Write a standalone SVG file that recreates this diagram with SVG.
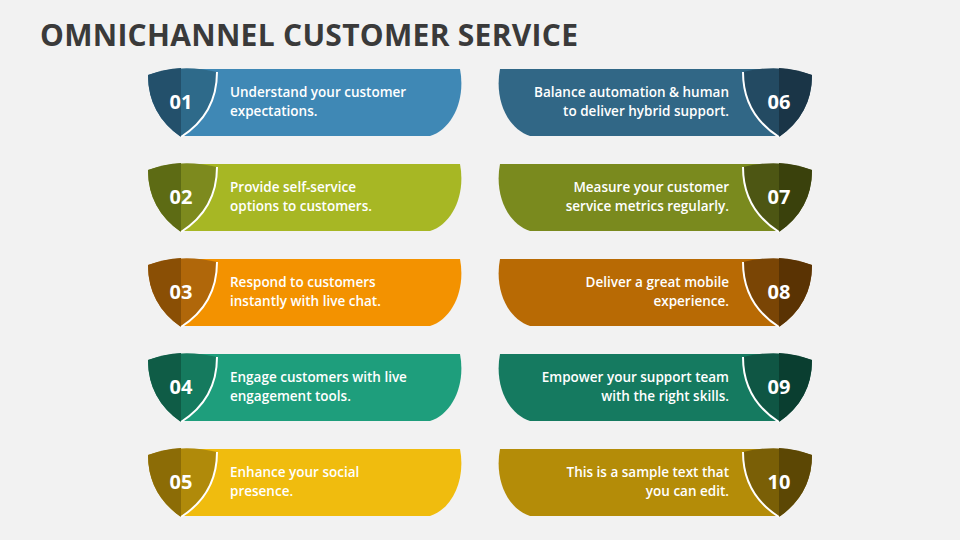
<svg xmlns="http://www.w3.org/2000/svg" width="960" height="540" viewBox="0 0 960 540">
<style>
.t{font-family:"Open Sans","Liberation Sans",sans-serif;font-weight:600;font-size:13.5px;fill:#fff}
.n{font-family:"Open Sans","Liberation Sans",sans-serif;font-weight:700;font-size:20px;fill:#fff;text-anchor:middle}
.e{text-anchor:end}
.w{fill:none;stroke:#fff;stroke-width:2}
</style>
<defs>
<path id="ban" d="M195 0 L460 0 C466 31 452 60 430 67 L183 67 Z"/>
<path id="sh" d="M148 6 Q181 -6 217 3 Q217 45 181 68 Q148 45 148 6 Z"/>
<path id="shd" d="M148 6 Q164 0 181 -1 L181 68 Q148 45 148 6 Z"/>
<path id="shw" d="M217 3 Q217 45 181 68"/>
</defs>
<rect width="960" height="540" fill="#f2f2f2"/>
<text x="40" y="46" font-family="Open Sans, Liberation Sans, sans-serif" font-weight="700" font-size="30" fill="#3a3a3a" textLength="538">OMNICHANNEL CUSTOMER SERVICE</text>

<g id="n01" transform="translate(0,69)"><use href="#ban" fill="#3F88B5"/><use href="#sh" fill="#2e6a8a"/><use href="#shd" fill="#23506b"/><use href="#shw" class="w"/><text class="n" x="181" y="40">01</text><text class="t" x="230" y="28">Understand your customer</text><text class="t" x="230" y="47">expectations.</text></g>
<g id="n02" transform="translate(0,164)"><use href="#ban" fill="#A7B724"/><use href="#sh" fill="#7d8a1e"/><use href="#shd" fill="#5d6b14"/><use href="#shw" class="w"/><text class="n" x="181" y="40">02</text><text class="t" x="230" y="28">Provide self-service</text><text class="t" x="230" y="47">options to customers.</text></g>
<g id="n03" transform="translate(0,259)"><use href="#ban" fill="#F39200"/><use href="#sh" fill="#b0670a"/><use href="#shd" fill="#8a4f05"/><use href="#shw" class="w"/><text class="n" x="181" y="40">03</text><text class="t" x="230" y="28">Respond to customers</text><text class="t" x="230" y="47">instantly with live chat.</text></g>
<g id="n04" transform="translate(0,354)"><use href="#ban" fill="#1E9E7C"/><use href="#sh" fill="#157a5e"/><use href="#shd" fill="#0f5c46"/><use href="#shw" class="w"/><text class="n" x="181" y="40">04</text><text class="t" x="230" y="28">Engage customers with live</text><text class="t" x="230" y="47">engagement tools.</text></g>
<g id="n05" transform="translate(0,449)"><use href="#ban" fill="#F0BC0E"/><use href="#sh" fill="#b08a0a"/><use href="#shd" fill="#8c6c06"/><use href="#shw" class="w"/><text class="n" x="181" y="40">05</text><text class="t" x="230" y="28">Enhance your social</text><text class="t" x="230" y="47">presence.</text></g>

<g id="n06" transform="translate(0,69)"><g transform="translate(960,0) scale(-1,1)"><use href="#ban" fill="#316786"/><use href="#sh" fill="#234a62"/><use href="#shd" fill="#1a3547"/><use href="#shw" class="w"/></g><text class="n" x="779" y="40">06</text><text class="t e" x="729" y="28">Balance automation &amp; human</text><text class="t e" x="729" y="47">to deliver hybrid support.</text></g>
<g id="n07" transform="translate(0,164)"><g transform="translate(960,0) scale(-1,1)"><use href="#ban" fill="#7A8A1E"/><use href="#sh" fill="#4d5613"/><use href="#shd" fill="#3a410c"/><use href="#shw" class="w"/></g><text class="n" x="779" y="40">07</text><text class="t e" x="729" y="28">Measure your customer</text><text class="t e" x="729" y="47">service metrics regularly.</text></g>
<g id="n08" transform="translate(0,259)"><g transform="translate(960,0) scale(-1,1)"><use href="#ban" fill="#B86A04"/><use href="#sh" fill="#7a4505"/><use href="#shd" fill="#5a3303"/><use href="#shw" class="w"/></g><text class="n" x="779" y="40">08</text><text class="t e" x="729" y="28">Deliver a great mobile</text><text class="t e" x="729" y="47">experience.</text></g>
<g id="n09" transform="translate(0,354)"><g transform="translate(960,0) scale(-1,1)"><use href="#ban" fill="#157A60"/><use href="#sh" fill="#0f5644"/><use href="#shd" fill="#0a3e30"/><use href="#shw" class="w"/></g><text class="n" x="779" y="40">09</text><text class="t e" x="729" y="28">Empower your support team</text><text class="t e" x="729" y="47">with the right skills.</text></g>
<g id="n10" transform="translate(0,449)"><g transform="translate(960,0) scale(-1,1)"><use href="#ban" fill="#B48C08"/><use href="#sh" fill="#7a5f06"/><use href="#shd" fill="#5c4704"/><use href="#shw" class="w"/></g><text class="n" x="779" y="40">10</text><text class="t e" x="729" y="28">This is a sample text that</text><text class="t e" x="729" y="47">you can edit.</text></g>
<g id="connectors"/>
</svg>
